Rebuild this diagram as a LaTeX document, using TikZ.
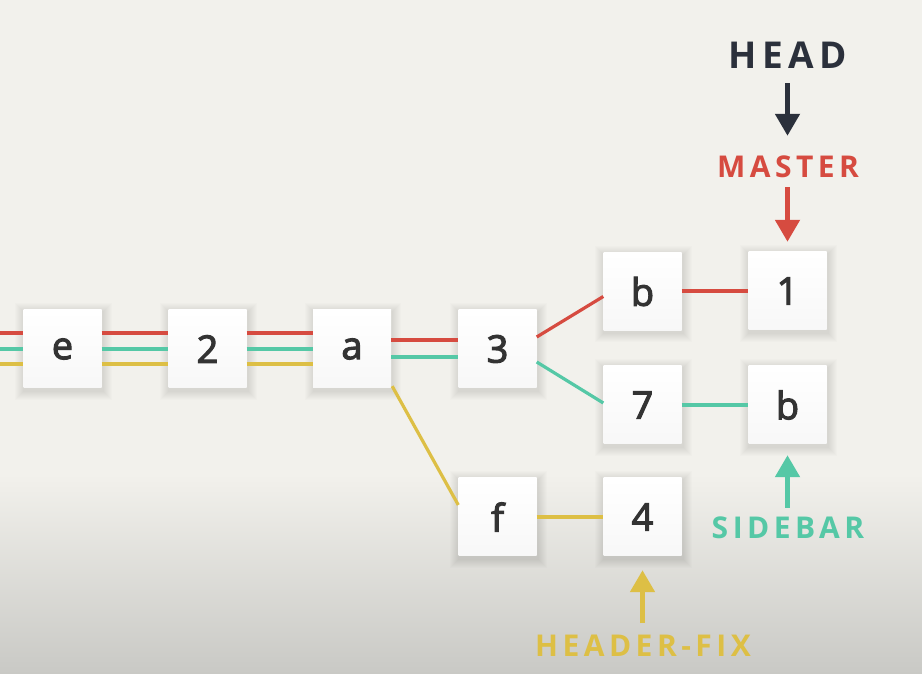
\documentclass[tikz,border=0pt]{standalone}
\usepackage{fontspec}
\usetikzlibrary{arrows.meta,calc}
\newfontfamily\boxfont{Open Sans}
\newfontfamily\lblfont{Open Sans Bold}[LetterSpace=15]
\newcommand\semibold[1]{\special{pdf:literal 2 Tr 1.1 w}#1\special{pdf:literal 0 Tr}}
\definecolor{bgc}{HTML}{F2F1EC}
\definecolor{bgd}{HTML}{C9C9C5}
\definecolor{cred}{HTML}{D64B40}
\definecolor{cgreen}{HTML}{55C8A6}
\definecolor{cyellow}{HTML}{DDBF45}
\definecolor{cdark}{HTML}{2B303B}
\definecolor{ctext}{HTML}{333333}
\pgfdeclarelayer{bg}
\pgfsetlayers{bg,main}
\begin{document}
\begin{tikzpicture}[x=1pt,y=1pt,
  commit/.style={draw=none, top color=white, bottom color=white!97!black,
    minimum size=78pt, inner sep=0pt, font=\boxfont\fontsize{38}{40}\selectfont, text=ctext},
  branch/.style={line width=3.2pt},
  lbl/.style={inner sep=0pt, font=\lblfont\fontsize{30}{32}\selectfont},
  ptr/.style={line width=5pt, -{Triangle[width=24pt,length=22pt]}},
  shadowlayer/.style={fill=black, opacity=0.012}]
\useasboundingbox (0,0) rectangle (922,674);
% commits
\node[commit] (e) at (62.5,325) {\semibold{e}};
\node[commit] (two) at (207.5,325) {\semibold{2}};
\node[commit] (a) at (352,325) {\semibold{a}};
\node[commit] (three) at (497.5,325) {\semibold{3}};
\node[commit] (b1) at (642.5,382.5) {\semibold{b}};
\node[commit] (one) at (787.5,383) {\semibold{1}};
\node[commit] (seven) at (642.5,269) {\semibold{7}};
\node[commit] (b2) at (787.5,269) {\semibold{b}};
\node[commit] (f) at (497.5,157) {\semibold{f}};
\node[commit] (four) at (642.5,157) {\semibold{4}};
\coordinate (lft) at (0,325);
\begin{pgfonlayer}{bg}
\fill[bgc] (0,0) rectangle (922,674);
\shade[top color=bgc, bottom color=bgd] (0,0) rectangle (922,200);
\foreach \n in {e,two,a,three,b1,one,seven,b2,f,four}{
  \foreach \r in {1,2,...,9}{
    \fill[shadowlayer] ([shift={(-\r+1,\r-2.5)}]\n.north west) rectangle ([shift={(\r+1,-\r-2.5)}]\n.south east);
  }
}
\end{pgfonlayer}
% left parallel lines
\foreach \s/\c in {16/cred,0/cgreen,-15/cyellow}{
  \draw[branch,\c] ([yshift=\s]lft) -- ([yshift=\s]e.west);
  \draw[branch,\c] ([yshift=\s]e.east) -- ([yshift=\s]two.west);
  \draw[branch,\c] ([yshift=\s]two.east) -- ([yshift=\s]a.west);
}
\draw[branch,cred] ([yshift=9]a.east) -- ([yshift=9]three.west);
\draw[branch,cgreen] ([yshift=-8]a.east) -- ([yshift=-8]three.west);
\draw[branch,cred] ([yshift=12]three.east) -- ([yshift=-5]b1.west);
\draw[branch,cgreen] ([yshift=-13]three.east) -- ([yshift=2]seven.west);
\draw[branch,cred] (b1.east |- one.west) -- (one.west);
\draw[branch,cgreen] (seven.east) -- (b2.west);
\draw[branch,cyellow] ([xshift=1,yshift=2]a.south east) -- ([yshift=12]f.west);
\draw[branch,cyellow] (f.east) -- (four.west);
% labels
\node[lbl, text=cdark, font=\lblfont\fontsize{37}{40}\selectfont] (head) at (788,619) {HEAD};
\node[lbl, text=cred] (master) at (788,507) {MASTER};
\node[lbl, text=cgreen] (sidebar) at (788,146) {SIDEBAR};
\node[lbl, text=cyellow] (hfix) at (643,28) {HEADER-FIX};
% pointers
\draw[ptr,cdark,shorten <=15pt,shorten >=20pt] (head.south -| one.north) -- (master.north -| one.north);
\draw[ptr,cred,shorten <=9pt,shorten >=10pt] (master.south -| one.north) -- (one.north);
\draw[ptr,cgreen,shorten <=9pt,shorten >=11pt] (sidebar.north -| b2.south) -- (b2.south);
\draw[ptr,cyellow,shorten <=12pt,shorten >=14pt] (hfix.north -| four.south) -- (four.south);
\end{tikzpicture}
\end{document}
